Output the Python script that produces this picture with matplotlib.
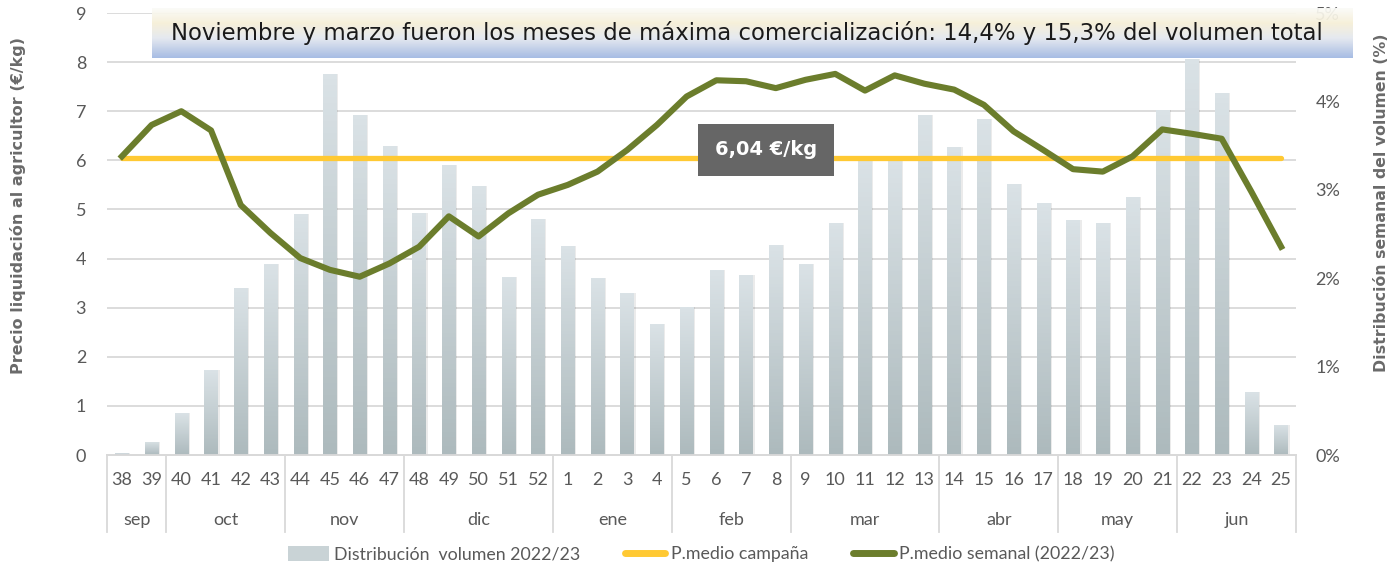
import numpy as np
import matplotlib
matplotlib.use("Agg")
from matplotlib import pyplot as plt
from matplotlib.lines import Line2D
from matplotlib.patches import Patch
import matplotlib.transforms as mtransforms

weeks = [38, 39, 40, 41, 42, 43, 44, 45, 46, 47, 48, 49, 50, 51, 52,
         1, 2, 3, 4, 5, 6, 7, 8, 9, 10, 11, 12, 13, 14, 15, 16, 17,
         18, 19, 20, 21, 22, 23, 24, 25]
months = ["sep", "oct", "nov", "dic", "ene", "feb", "mar", "abr", "may", "jun"]
weeks_per_month = [2, 4, 4, 5, 4, 4, 5, 4, 4, 4]

# distribucion semanal del volumen (%)
volume_pct = [0.02, 0.15, 0.47, 0.96, 1.89, 2.16, 2.73, 4.31, 3.85, 3.50,
              2.74, 3.28, 3.04, 2.01, 2.67, 2.36, 2.00, 1.83, 1.48, 1.67,
              2.09, 2.04, 2.38, 2.16, 2.63, 3.33, 3.33, 3.85, 3.48, 3.80,
              3.06, 2.85, 2.66, 2.62, 2.92, 3.90, 4.48, 4.10, 0.71, 0.34]
# precio medio semanal (EUR/kg)
price_week = [6.08, 6.72, 7.00, 6.61, 5.09, 4.52, 4.01, 3.77, 3.63, 3.90,
              4.24, 4.86, 4.45, 4.92, 5.30, 5.50, 5.77, 6.21, 6.72, 7.30,
              7.63, 7.61, 7.47, 7.64, 7.76, 7.42, 7.73, 7.56, 7.44, 7.13,
              6.59, 6.21, 5.82, 5.77, 6.08, 6.63, 6.54, 6.44, 5.36, 4.24]
price_campaign = 6.04

title = ("Noviembre y marzo fueron los meses de máxima comercialización: "
         "14,4% y 15,3% del volumen total")

GREEN = "#6b7d2c"
YELLOW = "#ffc933"
GRID = "#d9d9d9"
TXT = "#595959"
NARROW = ["Lato", "DejaVu Sans"]

fig = plt.figure(figsize=(13.91, 5.70), dpi=100)
W, H = 1391, 570
ax = fig.add_axes([107 / W, 1 - 455 / H, (1296 - 107) / W, (455 - 13) / H])
ax2 = ax.twinx()
ax.set_zorder(ax2.get_zorder() + 1)
ax.patch.set_visible(False)

x = np.arange(len(weeks))

# bars on the percent axis, each with a vertical gradient
bars = ax2.bar(x, volume_pct, width=0.45, color="#c9d3d6", zorder=2)
grad = np.linspace(0, 1, 64).reshape(-1, 1)
cmap = matplotlib.colors.LinearSegmentedColormap.from_list("b", ["#adbabd", "#dae2e6"])
for b in bars:
    bx, bw, bh = b.get_x(), b.get_width(), b.get_height()
    # soft shadow on the right side
    ax2.bar(bx + bw / 2 + 0.06, bh, width=bw, color="#000000", alpha=0.08, zorder=1.5)
    im = ax2.imshow(grad, cmap=cmap, origin="lower", aspect="auto",
                    extent=[bx, bx + bw, 0, bh], zorder=3)
    im.set_clip_path(b)

ax2.set_ylim(0, 5)
ax2.set_yticks(range(6))
ax2.set_yticklabels([f"{v}%" for v in range(6)], fontsize=13, color=TXT, family=NARROW)
ax2.tick_params(axis="y", length=0, pad=14)
for v in range(10):
    ax2.axhline(v * 5 / 9, color=GRID, lw=1.3, zorder=1)

# price lines
ax.plot([x[0], x[-1]], [price_campaign] * 2, color=YELLOW, lw=3.8,
        solid_capstyle="round", zorder=3)
ax.plot(x, price_week, color=GREEN, lw=4.4, solid_joinstyle="round", zorder=4)
ax.set_ylim(0, 9)
ax.set_xlim(-0.5, len(weeks) - 0.5)
ax.set_yticks(range(10))
ax.set_yticklabels([str(v) for v in range(10)], fontsize=13, color=TXT, family=NARROW)
ax.tick_params(axis="y", length=0, pad=15)

ax.set_xticks(x)
ax.set_xticklabels([str(w) for w in weeks], fontsize=13, color=TXT, family=NARROW)
ax.tick_params(axis="x", length=0, pad=12)

for a in (ax, ax2):
    for s in ("top", "left", "right"):
        a.spines[s].set_visible(False)
    a.spines["bottom"].set_color(GRID)
    a.spines["bottom"].set_linewidth(1.3)

# month groups under the week labels
trans = mtransforms.blended_transform_factory(ax.transData, ax.transAxes)
edges = np.concatenate([[0], np.cumsum(weeks_per_month)]) - 0.5
for e in edges:
    ax.plot([e, e], [0, -0.175], transform=trans, color=GRID, lw=1.3, clip_on=False)
for m, a0, a1 in zip(months, edges[:-1], edges[1:]):
    ax.text((a0 + a1) / 2, -0.147, m, transform=trans, ha="center", va="center",
            fontsize=13, color=TXT, family=NARROW)

# value label for campaign mean
ax.text(21.67, 6.22, "6,04 €/kg", ha="center", va="center", fontsize=14,
        fontweight="bold", color="white", zorder=6,
        bbox=dict(boxstyle="square,pad=0.85", fc="#666666", ec="none"))

# axis titles
fig.text(18 / W, 1 - 206 / H, "Precio liquidación al agricultor (€/kg)", rotation=90,
         ha="center", va="center", fontsize=11.5, fontweight="bold", color="#6a6a6a")
fig.text(1381 / W, 1 - 203 / H, "Distribución semanal del volumen (%)", rotation=90,
         ha="center", va="center", fontsize=11.3, fontweight="bold", color="#6a6a6a")

# title banner with gradient
tax = fig.add_axes([152 / W, 1 - 58 / H, 1200 / W, 50 / H], zorder=5)
tcm = matplotlib.colors.LinearSegmentedColormap.from_list(
    "t", [(0, "#a1b8e2"), (0.4, "#e4e8ef"), (0.7, "#f6efd7"), (1, "#fbfbf8")])
tax.imshow(np.linspace(0, 1, 64).reshape(-1, 1), cmap=tcm, origin="lower",
           aspect="auto", extent=[0, 1, 0, 1], alpha=0.93)
tax.set_xlim(0, 1)
tax.set_ylim(0, 1)
tax.axis("off")
tax.text(0.496, 0.5, title, ha="center", va="center", fontsize=16.4, color="#1a1a1a")

# legend
handles = [Patch(facecolor="#c9d3d6", edgecolor="none"),
           Line2D([], [], color=YELLOW, lw=5, solid_capstyle="round"),
           Line2D([], [], color=GREEN, lw=5, solid_capstyle="round")]
labels = ["Distribución  volumen 2022/23", "P.medio campaña", "P.medio semanal (2022/23)"]
fig.legend(handles, labels, loc="center", bbox_to_anchor=(701 / W, 1 - 554 / H),
           ncol=3, frameon=False, handlelength=2.3, handleheight=0.9,
           handletextpad=0.3, columnspacing=2.5,
           prop={"family": NARROW, "size": 12.8}, labelcolor=TXT)

fig.savefig("out.png", dpi=100)
